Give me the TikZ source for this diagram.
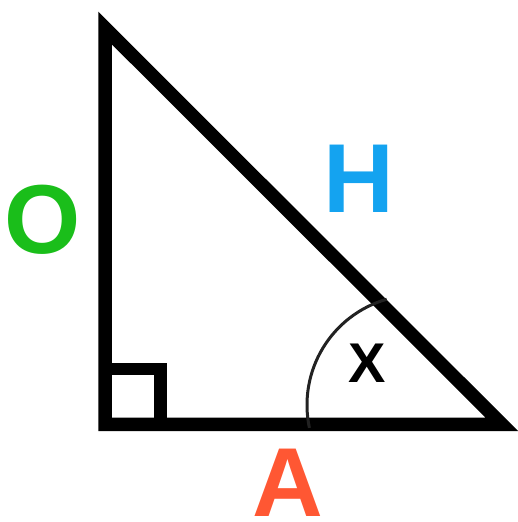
\documentclass[tikz,border=0pt]{standalone}
\usepackage{fontspec}
\setmainfont{Liberation Sans}
\definecolor{ogreen}{RGB}{26,190,26}
\definecolor{hblue}{RGB}{20,163,240}
\definecolor{ared}{RGB}{255,87,51}
\definecolor{arcgray}{RGB}{34,34,34}
\tikzset{
  edge/.style={line width=13.5pt, line join=miter, miter limit=10, black},
  rightbox/.style={line width=12.5pt, black},
  anglearc/.style={line width=3pt, arcgray},
  biglabel/.style={inner sep=0pt, font=\fontsize{98}{98}\selectfont\bfseries},
  anglelabel/.style={inner sep=0pt, font=\fontsize{56}{56}\selectfont\bfseries}
}
\begin{document}
\begin{tikzpicture}[x=1pt,y=1pt]
\useasboundingbox (0,0) rectangle (518,522);
\coordinate (T) at (105,494);
\coordinate (B) at (105,97.5);
\coordinate (R) at (502,97.5);
\coordinate (Q) at (160.5,153);
\draw[edge] (T) -- (B) -- (R) -- cycle;
\draw[rightbox] (B) rectangle (Q);
\coordinate (ac) at (417,117);
\draw[anglearc] ([shift={(192:110)}]ac) arc[start angle=192, end angle=106, radius=110];
\node[biglabel, text=ogreen] (o) at (43,302) {O};
\node[biglabel, text=hblue] (h) at (358.5,343) {H};
\node[biglabel, text=ared] (a) at (288,39) {A};
\node[anglelabel, text=black] (x) at (367,159) {X};
\end{tikzpicture}
\end{document}
